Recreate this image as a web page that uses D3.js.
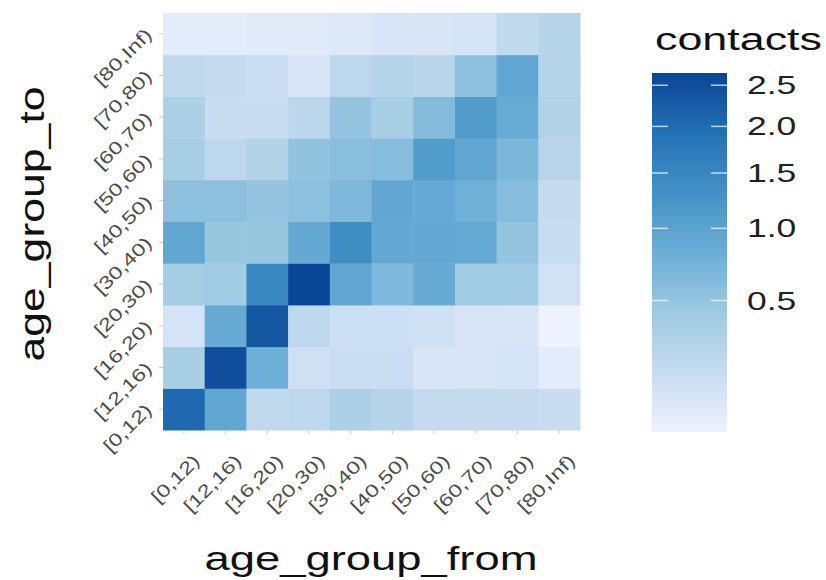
<!DOCTYPE html>
<html>
<head>
<meta charset="utf-8">
<script src="https://cdn.jsdelivr.net/npm/d3@7"></script>
<style>
  body { margin: 0; background: #fff; }
  text { font-family: "Liberation Sans", Arial, sans-serif; }
</style>
</head>
<body>
<div id="chart"></div>
<script>
var w = 826;
var h = 580;

// age groups, used on both axes
var ageGroups = ["[0,12)", "[12,16)", "[16,20)", "[20,30)", "[30,40)",
                 "[40,50)", "[50,60)", "[60,70)", "[70,80)", "[80,Inf)"];

// contacts[i][j] : age_group_to = ageGroups[i], age_group_from = ageGroups[j]
var contacts = [
  [2.05, 0.95, 0.20, 0.22, 0.33, 0.27, 0.18, 0.17, 0.18, 0.16],
  [0.35, 2.50, 0.80, 0.13, 0.15, 0.15, 0.10, 0.10, 0.11, 0.06],
  [0.11, 0.86, 2.35, 0.22, 0.14, 0.14, 0.13, 0.10, 0.10, 0.03],
  [0.38, 0.40, 1.50, 2.66, 0.95, 0.66, 0.86, 0.42, 0.40, 0.12],
  [0.93, 0.48, 0.48, 0.90, 1.40, 0.90, 0.90, 0.88, 0.50, 0.16],
  [0.55, 0.55, 0.50, 0.56, 0.66, 0.92, 0.88, 0.78, 0.60, 0.17],
  [0.36, 0.22, 0.30, 0.52, 0.58, 0.60, 1.10, 0.95, 0.68, 0.26],
  [0.33, 0.16, 0.16, 0.23, 0.50, 0.35, 0.62, 1.10, 0.85, 0.30],
  [0.20, 0.17, 0.15, 0.10, 0.22, 0.27, 0.25, 0.55, 0.95, 0.28],
  [0.06, 0.06, 0.07, 0.07, 0.08, 0.10, 0.10, 0.11, 0.20, 0.27]
];

var legendTicks = [0.5, 1.0, 1.5, 2.0, 2.5];

// brewer Blues (7), light to dark
var blues = ["#EFF3FF", "#C6DBEF", "#9ECAE1", "#6BAED6", "#4292C6", "#2171B5", "#084594"];

var cells = [];
contacts.forEach(function(row, i) {
    row.forEach(function(v, j) {
        cells.push({ to: ageGroups[i], from: ageGroups[j], value: v });
    });
});

var extent = d3.extent(cells, function(d) { return d.value; });
var t = d3.scaleSqrt().domain(extent).range([0, 1]);
var ramp = d3.piecewise(d3.interpolateLab, blues);
var color = function(v) { return ramp(t(v)); };

var svg = d3.select("#chart")
            .append("svg")
            .attr("width", w)
            .attr("height", h);

var x = d3.scaleBand().domain(ageGroups).range([163, 580]);
var y = d3.scaleBand().domain(ageGroups).range([430, 13]);

svg.selectAll("rect.cell")
   .data(cells)
   .enter()
   .append("rect")
   .attr("class", "cell")
   .attr("x", function(d) { return x(d.from); })
   .attr("y", function(d) { return y(d.to); })
   .attr("width", x.bandwidth() + 0.5)
   .attr("height", y.bandwidth() + 0.5)
   .style("fill", function(d) { return color(d.value); });

// stretch text along its baseline (the glyphs in the original are wide)
function stretch(sel, factor) {
    sel.each(function() {
        var len = this.getComputedTextLength();
        d3.select(this).attr("textLength", len * factor).attr("lengthAdjust", "spacingAndGlyphs");
    });
}

// axis ticks
svg.selectAll("line.xtick")
   .data(ageGroups)
   .enter()
   .append("line")
   .attr("x1", function(d) { return x(d) + x.bandwidth() / 2; })
   .attr("x2", function(d) { return x(d) + x.bandwidth() / 2; })
   .attr("y1", 430).attr("y2", 434)
   .style("stroke", "#ccc");

svg.selectAll("line.ytick")
   .data(ageGroups)
   .enter()
   .append("line")
   .attr("y1", function(d) { return y(d) + y.bandwidth() / 2; })
   .attr("y2", function(d) { return y(d) + y.bandwidth() / 2; })
   .attr("x1", 159).attr("x2", 163)
   .style("stroke", "#ccc");

var xlab = svg.selectAll("text.xlab")
   .data(ageGroups)
   .enter()
   .append("text")
   .attr("class", "xlab")
   .attr("text-anchor", "end")
   .attr("transform", function(d) {
       return "translate(" + (x(d) + x.bandwidth() / 2 + 17) + ",462) rotate(-45)";
   })
   .style("font-size", "18px")
   .style("fill", "#4d4d4d")
   .text(function(d) { return d; });
stretch(xlab, 1.3);

var ylab = svg.selectAll("text.ylab")
   .data(ageGroups)
   .enter()
   .append("text")
   .attr("class", "ylab")
   .attr("text-anchor", "end")
   .attr("transform", function(d) {
       return "translate(153," + (y(d) + y.bandwidth() / 2 + 2) + ") rotate(-45)";
   })
   .style("font-size", "18px")
   .style("fill", "#4d4d4d")
   .text(function(d) { return d; });
stretch(ylab, 1.3);

// axis titles
svg.append("text")
   .attr("x", 371).attr("y", 570)
   .attr("text-anchor", "middle")
   .attr("textLength", 333).attr("lengthAdjust", "spacingAndGlyphs")
   .style("font-size", "34px")
   .style("fill", "#111")
   .text("age_group_from");

svg.append("text")
   .attr("transform", "translate(44,224) rotate(-90)")
   .attr("text-anchor", "middle")
   .attr("textLength", 275).attr("lengthAdjust", "spacingAndGlyphs")
   .style("font-size", "35px")
   .style("fill", "#111")
   .text("age_group_to");

// legend
var ly = d3.scaleSqrt().domain(extent).range([432, 73]);
var defs = svg.append("defs");
var grad = defs.append("linearGradient")
   .attr("id", "lg")
   .attr("x1", 0).attr("y1", 1).attr("x2", 0).attr("y2", 0);
d3.range(0, 1.0001, 0.02).forEach(function(s) {
    grad.append("stop")
        .attr("offset", s)
        .attr("stop-color", ramp(s));
});

svg.append("rect")
   .attr("x", 652).attr("y", 73)
   .attr("width", 75).attr("height", 359)
   .style("fill", "url(#lg)");

svg.selectAll("line.lt1")
   .data(legendTicks)
   .enter()
   .append("line")
   .attr("x1", 652).attr("x2", 668)
   .attr("y1", function(d) { return ly(d); })
   .attr("y2", function(d) { return ly(d); })
   .style("stroke", "#fff").style("stroke-opacity", 0.7).style("stroke-width", 1.5);

svg.selectAll("line.lt2")
   .data(legendTicks)
   .enter()
   .append("line")
   .attr("x1", 711).attr("x2", 727)
   .attr("y1", function(d) { return ly(d); })
   .attr("y2", function(d) { return ly(d); })
   .style("stroke", "#fff").style("stroke-opacity", 0.7).style("stroke-width", 1.5);

var llab = svg.selectAll("text.llab")
   .data(legendTicks)
   .enter()
   .append("text")
   .attr("x", 747)
   .attr("y", function(d) { return ly(d) + 9; })
   .style("font-size", "25px")
   .style("fill", "#222")
   .text(function(d) { return d.toFixed(1); });
stretch(llab, 1.42);

svg.append("text")
   .attr("x", 655).attr("y", 50)
   .attr("textLength", 167).attr("lengthAdjust", "spacingAndGlyphs")
   .style("font-size", "31px")
   .style("fill", "#111")
   .text("contacts");
</script>
</body>
</html>
